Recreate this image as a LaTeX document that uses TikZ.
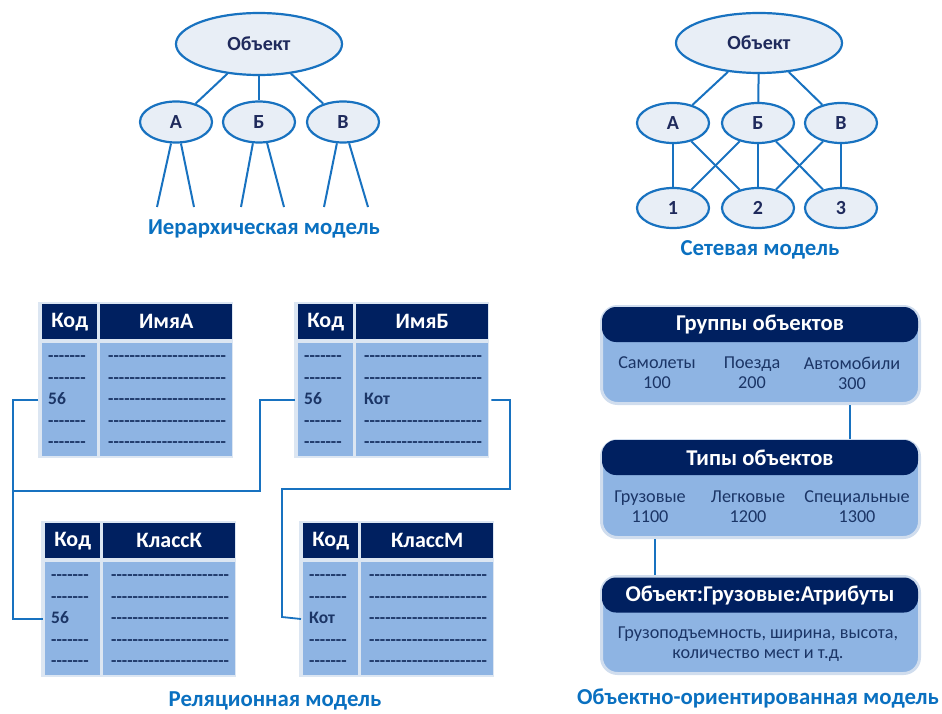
\documentclass[tikz,border=0pt]{standalone}
\usepackage{fontspec}
\setmainfont{Carlito}
\usetikzlibrary{shapes.geometric,calc}
\definecolor{navy}{HTML}{002060}
\definecolor{lblue}{HTML}{8EB4E3}
\definecolor{efill}{HTML}{E8EEF6}
\definecolor{eline}{HTML}{1872C0}
\definecolor{etext}{HTML}{1F2A5C}
\definecolor{lab}{HTML}{0A70C0}
\definecolor{dtext}{HTML}{1B3566}
\definecolor{tborder}{HTML}{DCE6F2}
\definecolor{oborder}{HTML}{D0DDEE}
\newcommand\hyph[1]{\foreach\k in {1,...,#1}{-\kern0pt}}
\tikzset{
 ell/.style={ellipse, draw=eline, fill=efill, line width=2.2pt, inner sep=0pt, text=etext, font=\bfseries\fontsize{20}{20}\selectfont},
 lnk/.style={draw=eline, line width=2pt},
 capt/.style={text=lab, font=\bfseries\fontsize{22.8}{22.8}\selectfont},
 hdr/.style={fill=navy, text=white, inner sep=0pt, anchor=north west, minimum height=35pt, font=\bfseries\fontsize{22}{22}\selectfont},
 cellbody/.style={fill=lblue, inner sep=0pt, anchor=north west, minimum height=113pt},
 rowtxt/.style={anchor=west, inner sep=0pt, text=dtext, text height=11pt, text depth=2pt, font=\bfseries\fontsize{17.5}{17.5}\selectfont},
 conn/.style={draw=eline, line width=1.8pt},
 oobox/.style={draw=oborder, fill=lblue, line width=3pt, rounded corners=16pt, minimum width=318pt, minimum height=97pt, inner sep=0pt},
 oohdr/.style={fill=navy, text=white, rounded corners=14pt, minimum width=316pt, minimum height=35pt, inner sep=0pt, font=\bfseries\fontsize{22.6}{22.6}\selectfont},
 ootxt/.style={text=dtext, align=center, inner sep=0pt, font=\fontsize{18.2}{20}\selectfont},
}
\newcommand\reltab[6]{%
 \fill[tborder] ({#2-4},{#3-2}) rectangle ({#2+191},{#3+154});
 \node[hdr, minimum width=55pt] (#1-hc) at (#2,#3) {Код};
 \node[hdr, minimum width=132pt] (#1-hn) at ({#2+58},#3) {#4};
 \node[cellbody, minimum width=55pt] (#1-bc) at (#2,{#3+39}) {};
 \node[cellbody, minimum width=132pt] (#1-bn) at ({#2+58},{#3+39}) {};
 \node[rowtxt] (#1-c1) at ({#2+6},{#3+53}) {\hyph{7}};
 \node[rowtxt] (#1-c2) at ({#2+6},{#3+74.5}) {\hyph{7}};
 \node[rowtxt] (#1-c3) at ({#2+6},{#3+96}) {#5};
 \node[rowtxt] (#1-c4) at ({#2+6},{#3+117.5}) {\hyph{7}};
 \node[rowtxt] (#1-c5) at ({#2+6},{#3+139}) {\hyph{7}};
 \node[rowtxt] (#1-n1) at ({#2+66},{#3+53}) {\hyph{22}};
 \node[rowtxt] (#1-n2) at ({#2+66},{#3+74.5}) {\hyph{22}};
 \node[rowtxt] (#1-n3) at ({#2+66},{#3+96}) {#6};
 \node[rowtxt] (#1-n4) at ({#2+66},{#3+117.5}) {\hyph{22}};
 \node[rowtxt] (#1-n5) at ({#2+66},{#3+139}) {\hyph{22}};
}
\begin{document}
\begin{tikzpicture}[x=1pt,y=-1pt]
\path[use as bounding box] (0,0) rectangle (942,714);
% ---------- hierarchical ----------
\node[ell, minimum width=166pt, minimum height=62pt] (hO) at (259,44) {Объект};
\node[ell, minimum width=72pt, minimum height=41pt] (hA) at (176,122) {А};
\node[ell, minimum width=72pt, minimum height=41pt] (hB) at (259,122) {Б};
\node[ell, minimum width=72pt, minimum height=41pt] (hV) at (343,122) {В};
\draw[lnk] (hO) -- (hA);
\draw[lnk] (hO) -- (hB);
\draw[lnk] (hO) -- (hV);
\coordinate (a1) at (157,207);
\coordinate (a2) at (194,207);
\coordinate (b1) at (241,207);
\coordinate (b2) at (284,207);
\coordinate (v1) at (324,207);
\coordinate (v2) at (368,207);
\draw[lnk] (hA.257) -- (a1);
\draw[lnk] (hA.283) -- (a2);
\draw[lnk] (hB.254) -- (b1);
\draw[lnk] (hB.291) -- (b2);
\draw[lnk] (hV.254) -- (v1);
\draw[lnk] (hV.286) -- (v2);
\node[capt] (hcap) at (264,229) {Иерархическая модель};
% ---------- network ----------
\node[ell, minimum width=166pt, minimum height=60pt] (nO) at (759,43) {Объект};
\node[ell, minimum width=72pt, minimum height=40pt] (nA) at (673,123) {А};
\node[ell, minimum width=72pt, minimum height=40pt] (nB) at (758,123) {Б};
\node[ell, minimum width=72pt, minimum height=40pt] (nV) at (841,123) {В};
\node[ell, minimum width=72pt, minimum height=40pt] (n1) at (673,208) {1};
\node[ell, minimum width=72pt, minimum height=40pt] (n2) at (758,208) {2};
\node[ell, minimum width=72pt, minimum height=40pt] (n3) at (841,208) {3};
\draw[lnk] (nO) -- (nA);
\draw[lnk] (nO) -- (nB);
\draw[lnk] (nO) -- (nV);
\draw[lnk] (nA) -- (n1);
\draw[lnk] (nA) -- (n2);
\draw[lnk] (nB) -- (n1);
\draw[lnk] (nB) -- (n2);
\draw[lnk] (nB) -- (n3);
\draw[lnk] (nV) -- (n2);
\draw[lnk] (nV) -- (n3);
\node[capt] (ncap) at (760,250) {Сетевая модель};
% ---------- relational ----------
\reltab{t1}{42}{304}{ИмяА}{56}{\hyph{22}}
\reltab{t2}{298}{304}{ИмяБ}{56}{Кот}
\reltab{t3}{45}{523}{КлассК}{56}{\hyph{22}}
\reltab{t4}{303}{523}{КлассМ}{Кот}{\hyph{22}}
\coordinate (busL) at (13,491);
\coordinate (busM) at (260,491);
\coordinate (busR) at (510,489);
\coordinate (jR) at (282,617);
\draw[conn] ($(t1-bc.west |- t1-c3)+(-4,0)$) -| (busL) |- ($(t3-bc.west |- t3-c3)+(-2,0)$);
\draw[conn] ($(t2-bc.west |- t2-c3)+(-3,0)$) -| (busM) -- (busL);
\draw[conn] ($(t2-bn.east |- t2-n3)+(3,0)$) -| (busR) -| (jR) -- ($(t4-bc.west |- t4-c3)+(-2,0)$);
\node[capt] (rcap) at (275,701) {Реляционная модель};
% ---------- object-oriented ----------
\node[oobox] (g1) at (760.5,355) {};
\node[oohdr] (g1h) at (760,324.5) {Группы объектов};
\node[ootxt] (g1a) at (657,373) {Самолеты\\100};
\node[ootxt] (g1b) at (752,373) {Поезда\\200};
\node[ootxt] (g1c) at (852,373) {Автомобили\\300};
\node[oobox] (g2) at (760.5,489) {};
\node[oohdr] (g2h) at (760,457.5) {Типы объектов};
\node[ootxt] (g2a) at (650,507) {Грузовые\\1100};
\node[ootxt] (g2b) at (748,507) {Легковые\\1200};
\node[ootxt] (g2c) at (857,507) {Специальные\\1300};
\node[oobox] (g3) at (760.5,625) {};
\node[oohdr] (g3h) at (760,595) {Объект:Грузовые:Атрибуты};
\node[ootxt] (g3a) at (758,644) {Грузоподъемность, ширина, высота,\\количество мест и т.д.};
\coordinate (k1) at (850,0);
\coordinate (k2) at (655,0);
\draw[conn] (g1.south -| k1) -- (g2.north -| k1);
\draw[conn] (g2.south -| k2) -- (g3.north -| k2);
\node[capt] (ocap) at (758,698) {Объектно-ориентированная модель};
\end{tikzpicture}
\end{document}
